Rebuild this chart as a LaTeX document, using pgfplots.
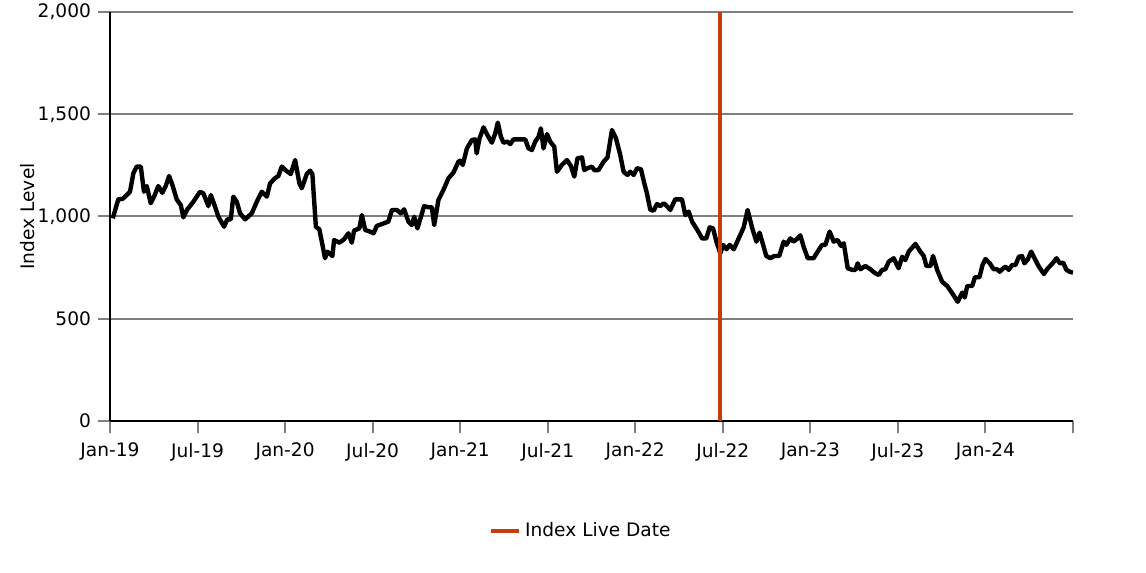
\documentclass[border=0pt]{standalone}
\usepackage{pgfplots}
\pgfplotsset{compat=1.18}
\usepackage{fontspec}
\setmainfont{DejaVu Sans}
\definecolor{liveorange}{HTML}{C43D0C}
\definecolor{gridgray}{HTML}{7F7F7F}

\begin{document}
\begin{tikzpicture}[font=\fontsize{9.3}{11}\selectfont]
\path[use as bounding box] (-55pt,-76pt) rectangle (518pt,210.5pt);
\begin{axis}[
    at={(0,0)}, anchor=south west,
    scale only axis,
    width=481.5pt, height=204.5pt,
    xmin=0, xmax=66,
    ymin=0, ymax=2000,
    axis x line*=bottom,
    axis y line*=left,
    axis line style={-, black, line width=1pt},
    xtick={0,6,...,66},
    xticklabels={Jan-19,Jul-19,Jan-20,Jul-20,Jan-21,Jul-21,Jan-22,Jul-22,Jan-23,Jul-23,Jan-24,{}},
    xticklabel style={yshift=-1.5pt},
    ytick={0,500,1000,1500,2000},
    /pgf/number format/.cd, 1000 sep={,}, assume math mode=true, /pgfplots/.cd,
    tick align=outside,
    major tick length=6pt,
    tick style={gridgray, line width=1pt},
    ymajorgrids=true,
    grid style={gridgray, line width=1pt},
    ylabel={Index Level},
    ylabel style={at={(axis description cs:0,0.5)}, anchor=center, yshift=41pt},
    legend style={at={(axis description cs:0.49,0)}, anchor=center, yshift=-55pt,
        draw=none, fill=none, legend cell align=left},
    legend image code/.code={\draw[#1] (0pt,0pt) -- (14pt,0pt);},
]

\addplot[black, line width=2.2pt, line join=round, forget plot] coordinates {
(0.19,991)(0.57,1084)(0.87,1086)(1.37,1121)(1.60,1211)(1.83,1244)(2.11,1244)
(2.33,1121)(2.52,1149)(2.79,1065)(3.02,1097)(3.31,1149)(3.59,1116)(3.82,1149)
(4.05,1198)(4.30,1149)(4.57,1084)(4.85,1056)(5.03,996)(5.30,1035)(5.71,1072)
(6.17,1121)(6.40,1113)(6.74,1051)(6.91,1105)(7.20,1048)(7.43,999)(7.82,950)
(8.04,986)(8.28,986)(8.45,1097)(8.69,1072)(8.91,1016)(9.26,986)(9.72,1016)
(10.06,1072)(10.40,1121)(10.75,1097)(10.97,1162)(11.31,1187)(11.54,1198)
(11.77,1244)(12.07,1224)(12.39,1208)(12.69,1276)(12.98,1162)(13.14,1138)
(13.49,1208)(13.71,1224)(13.87,1208)(14.11,950)(14.35,937)(14.74,796)
(14.90,828)(15.24,807)(15.36,885)(15.72,872)(16.05,889)(16.34,918)(16.57,872)
(16.73,931)(17.09,942)(17.26,1007)(17.49,934)(17.83,926)(18.06,918)(18.29,954)
(18.74,966)(19.08,975)(19.32,1032)(19.66,1032)(19.93,1016)(20.16,1035)
(20.45,975)(20.69,958)(20.85,999)(21.07,942)(21.53,1051)(21.83,1045)
(22.06,1045)(22.22,958)(22.51,1081)(22.85,1130)(23.20,1187)(23.54,1215)
(23.88,1268)(24.00,1273)(24.18,1252)(24.46,1333)(24.80,1374)(25.03,1377)
(25.13,1309)(25.32,1380)(25.60,1436)(25.87,1398)(26.17,1361)(26.40,1406)
(26.58,1459)(26.79,1390)(26.97,1361)(27.24,1366)(27.43,1354)(27.65,1377)
(28.46,1377)(28.68,1333)(28.92,1325)(29.14,1366)(29.37,1390)(29.53,1431)
(29.71,1333)(29.95,1403)(30.17,1366)(30.45,1341)(30.63,1219)(30.97,1252)
(31.32,1276)(31.59,1247)(31.82,1195)(32.04,1285)(32.35,1289)(32.50,1227)
(32.73,1236)(33.03,1244)(33.19,1227)(33.48,1227)(33.83,1268)(34.10,1289)
(34.40,1423)(34.68,1382)(34.97,1301)(35.20,1219)(35.47,1203)(35.66,1219)
(35.89,1203)(36.12,1236)(36.39,1231)(36.62,1162)(36.80,1113)(37.03,1032)
(37.26,1029)(37.49,1061)(37.72,1051)(37.94,1065)(38.17,1051)(38.40,1032)
(38.74,1084)(39.20,1084)(39.43,1007)(39.66,1024)(39.89,975)(40.23,937)
(40.58,893)(40.87,893)(41.10,947)(41.33,942)(41.56,877)(41.83,820)
(42.02,861)(42.25,840)(42.47,861)(42.75,840)(43.09,893)(43.43,947)
(43.70,1032)(44.00,947)(44.30,877)(44.52,921)(44.80,852)(44.98,807)
(45.26,796)(45.53,807)(45.87,807)(46.17,877)(46.35,861)(46.63,893)
(46.85,877)(47.13,893)(47.31,908)(47.54,852)(47.82,796)(48.22,796)
(48.57,836)(48.80,861)(49.03,861)(49.32,926)(49.60,877)(49.87,885)
(50.10,856)(50.29,869)(50.56,747)(50.86,739)(51.09,739)(51.24,771)
(51.43,742)(51.77,758)(52.11,742)(52.46,722)(52.68,714)(52.92,739)
(53.14,742)(53.37,779)(53.71,796)(54.05,747)(54.29,803)(54.51,787)
(54.74,828)(55.20,866)(55.54,828)(55.77,807)(55.95,758)(56.23,758)
(56.41,807)(56.69,739)(57.03,681)(57.38,660)(57.72,625)(58.10,583)
(58.41,628)(58.58,604)(58.75,660)(59.09,660)(59.28,703)(59.59,703)
(59.80,763)(60.00,792)(60.30,771)(60.55,743)(60.80,742)(60.98,730)
(61.15,742)(61.37,755)(61.60,739)(61.83,763)(62.06,763)(62.29,803)
(62.51,807)(62.67,771)(62.90,790)(63.13,828)(63.36,796)(63.66,755)
(64.00,719)(64.28,747)(64.57,768)(64.87,796)(65.10,771)(65.33,774)
(65.55,739)(65.78,730)(66.00,725)
};

\addplot[liveorange, line width=2pt] coordinates {(41.8,0)(41.8,2000)};
\addlegendentry{Index Live Date}
\end{axis}
\end{tikzpicture}
\end{document}
